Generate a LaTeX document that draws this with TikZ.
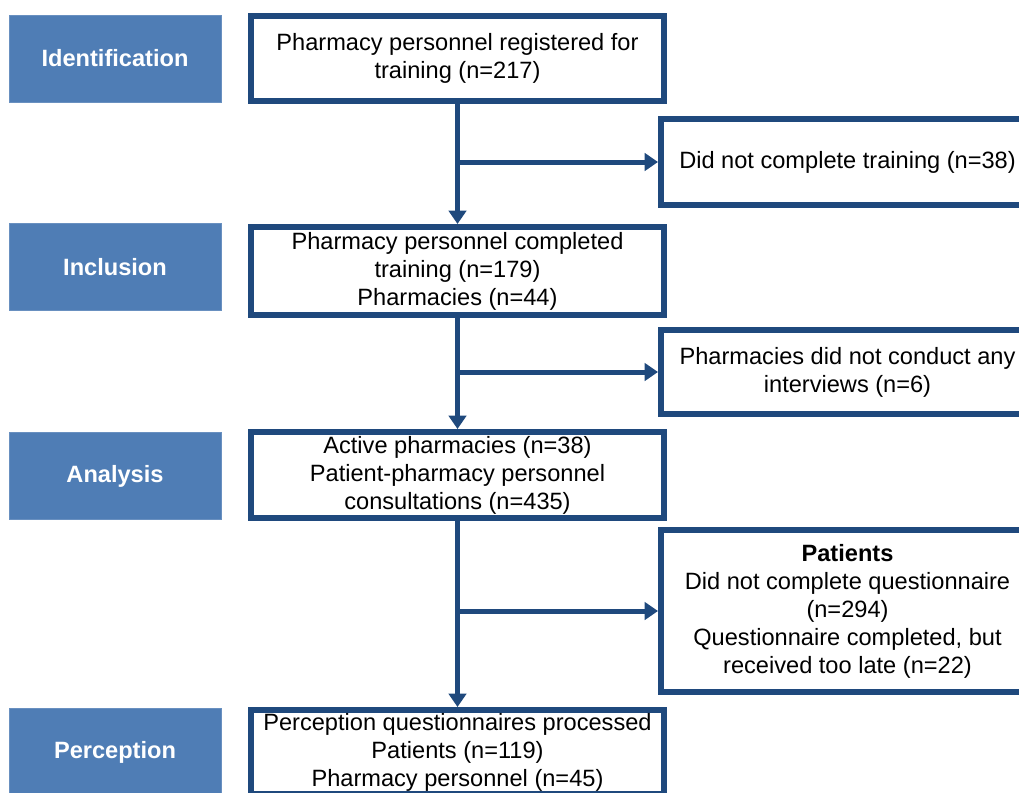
\documentclass[tikz,border=0pt]{standalone}
\usepackage{fontspec}
\setmainfont{Liberation Sans}
\usetikzlibrary{arrows.meta}
\definecolor{navy}{RGB}{31,73,125}
\definecolor{phase}{RGB}{79,125,181}
\def\fs{\fontsize{17.7}{21}\selectfont}

\begin{document}
\begin{tikzpicture}[x=0.75pt, y=-0.75pt,
  phasebox/.style={fill=phase, draw=phase!85!white, line width=0.5pt, minimum width=159pt,
    minimum height=65.25pt, inner sep=0pt, text=white, font=\fs\bfseries},
  flowbox/.style={draw=navy, line width=4.5pt, fill=white, align=center, inner sep=0pt,
    minimum width=309.75pt, font=\fs},
  sidebox/.style={flowbox, minimum width=279.75pt},
  flowarrow/.style={draw=navy, line width=3.75pt, -{Triangle[length=10pt, width=13pt]}}]
\useasboundingbox (0,0) rectangle (1019,792);
\clip (0,0) rectangle (1019,792);
% phases on the left
\node[phasebox] (identification) at (115,58.5) {Identification};
\node[phasebox] (inclusion) at (115,267) {Inclusion};
\node[phasebox] (analysis) at (115,476) {Analysis};
\node[phasebox] (perception) at (115,752) {Perception};
% main flow
\node[flowbox, minimum height=63.75pt] (registered) at (457.5,58.5)
  {Pharmacy personnel registered for\\training (n=217)};
\node[flowbox, minimum height=66pt] (completed) at (457.5,271)
  {Pharmacy personnel completed\\training (n=179)\\Pharmacies (n=44)};
\node[flowbox, minimum height=64.5pt] (active) at (457.5,475)
  {Active pharmacies (n=38)\\Patient-pharmacy personnel\\consultations (n=435)};
\node[flowbox, minimum height=63pt] (processed) at (457.5,752)
  {Perception questionnaires processed\\Patients (n=119)\\Pharmacy personnel (n=45)};
% exclusions on the right
\node[sidebox, minimum height=64.5pt] (notrained) at (847.5,162)
  {Did not complete training (n=38)};
\node[sidebox, minimum height=63pt] (nointerview) at (847.5,372)
  {Pharmacies did not conduct any\\interviews (n=6)};
\node[sidebox, minimum height=121.5pt] (noquest) at (847.5,611)
  {\textbf{Patients}\\Did not complete questionnaire\\(n=294)\\Questionnaire completed, but\\received too late (n=22)};
% connectors
\draw[flowarrow] (registered.south) -- (completed.north);
\draw[flowarrow] (completed.south) -- (active.north);
\draw[flowarrow] (active.south) -- (processed.north);
\draw[flowarrow] (registered.south |- notrained.west) -- (notrained.west);
\draw[flowarrow] (completed.south |- nointerview.west) -- (nointerview.west);
\draw[flowarrow] (active.south |- noquest.west) -- (noquest.west);
\end{tikzpicture}
\end{document}
